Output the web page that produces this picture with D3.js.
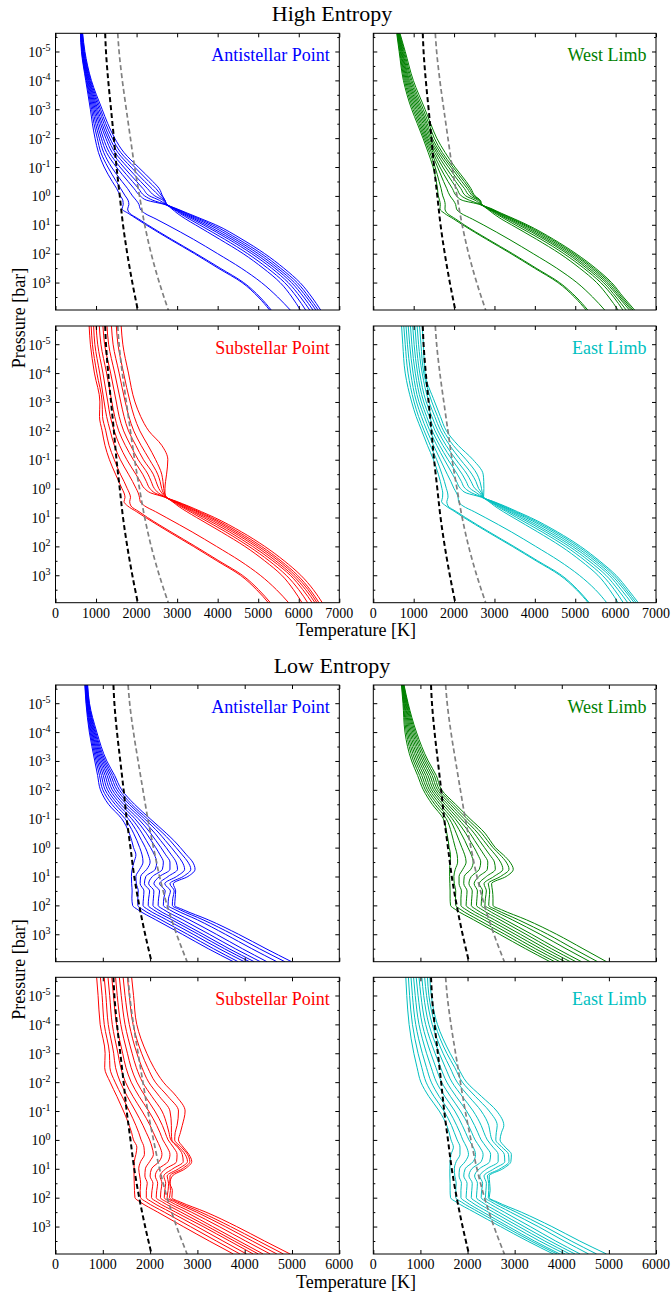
<!DOCTYPE html>
<html><head><meta charset="utf-8">
<script src="https://cdn.jsdelivr.net/npm/d3@7"></script>
<style>
html,body{margin:0;padding:0;background:#fff;}
svg{display:block;}
svg text{font-family:"Liberation Serif","Times New Roman",serif;}
</style></head><body>
<svg id="fig" width="672" height="1298"></svg>
<script>
// Pressure levels of the profiles, log10(P / bar)
const levelsHigh = [-5.63, -5, -4, -3, -2.5, -2, -1.5, -1, -0.5, -0.25, 0, 0.15, 0.3, 0.45, 0.6, 0.8, 1, 1.5, 2, 2.5, 3, 3.5, 3.95];
const levelsLow  = [-5.63, -5, -4, -3, -2.5, -2, -1.5, -1, -0.5, -0.25, 0, 0.25, 0.5, 0.75, 1, 1.25, 1.5, 1.75, 2, 2.15, 2.5, 3, 3.5, 3.95];

const tempTicksHigh = [0, 1000, 2000, 3000, 4000, 5000, 6000, 7000];
const tempTicksLow  = [0, 1000, 2000, 3000, 4000, 5000, 6000];
const pressureTickExps = [-5, -4, -3, -2, -1, 0, 1, 2, 3];
const pressureMinorExps = [-5.5, -4.5, -3.5, -2.5, -1.5, -0.5, 0.5, 1.5, 2.5, 3.5];

// Reference curves (dashed), same in every panel
const refLevels = [-5.63, -5, -4, -3, -2, -1, 0, 1, 2, 3, 3.95];
const refBlack  = [1225, 1245, 1300, 1370, 1440, 1505, 1585, 1665, 1770, 1895, 2030];
const refGray   = [1535, 1568, 1648, 1746, 1848, 1952, 2072, 2200, 2360, 2560, 2782];

// High entropy, temperature [K] on levelsHigh, one row per model
const highAntistellar = [
  [615, 640, 745, 860, 910, 975, 1060, 1200, 1400, 1510, 1600, 1660, 1670, 1640, 1790, 2010, 2230, 2820, 3430, 4010, 4600, 5000, 5280],
  [620, 648, 760, 890, 950, 1030, 1120, 1290, 1500, 1610, 1720, 1790, 1810, 1780, 1830, 2050, 2270, 2860, 3470, 4060, 4640, 5040, 5320],
  [625, 656, 775, 920, 990, 1080, 1190, 1380, 1640, 1780, 1900, 1990, 2060, 2090, 2200, 2480, 2750, 3400, 4000, 4580, 5080, 5480, 5790],
  [630, 664, 790, 950, 1030, 1130, 1260, 1500, 1790, 1940, 2090, 2250, 2700, 2870, 3000, 3210, 3450, 4050, 4630, 5120, 5540, 5830, 6040],
  [636, 672, 805, 980, 1070, 1180, 1330, 1590, 1900, 2050, 2200, 2400, 2720, 2900, 3060, 3300, 3550, 4170, 4740, 5230, 5650, 5950, 6170],
  [642, 680, 820, 1010, 1110, 1240, 1400, 1680, 2000, 2160, 2320, 2560, 2730, 2920, 3100, 3370, 3640, 4270, 4840, 5330, 5740, 6040, 6270],
  [648, 690, 835, 1040, 1150, 1290, 1470, 1770, 2100, 2270, 2450, 2650, 2740, 2940, 3140, 3430, 3710, 4350, 4920, 5410, 5820, 6120, 6350],
  [655, 700, 850, 1075, 1195, 1340, 1540, 1860, 2200, 2380, 2560, 2680, 2745, 2960, 3180, 3490, 3790, 4430, 5000, 5480, 5890, 6190, 6420],
  [662, 712, 868, 1110, 1240, 1400, 1610, 1950, 2300, 2480, 2620, 2700, 2750, 2980, 3220, 3550, 3870, 4510, 5080, 5550, 5960, 6250, 6480],
  [670, 725, 885, 1150, 1290, 1460, 1690, 2040, 2400, 2560, 2640, 2700, 2755, 3000, 3260, 3610, 3950, 4600, 5160, 5630, 6030, 6320, 6540]
];
const highWestLimb = [
  [580, 640, 745, 950, 1090, 1230, 1360, 1480, 1560, 1590, 1610, 1640, 1660, 1650, 1760, 1990, 2210, 2800, 3410, 3990, 4570, 4980, 5270],
  [590, 655, 770, 985, 1125, 1260, 1400, 1530, 1630, 1680, 1720, 1760, 1780, 1775, 1830, 2040, 2250, 2840, 3450, 4030, 4610, 5020, 5310],
  [598, 670, 795, 1020, 1160, 1290, 1440, 1590, 1740, 1820, 1900, 1980, 2040, 2060, 2170, 2450, 2720, 3360, 3960, 4540, 5040, 5430, 5730],
  [606, 685, 820, 1055, 1195, 1320, 1480, 1650, 1850, 1960, 2060, 2200, 2640, 2820, 2960, 3170, 3420, 4040, 4620, 5110, 5530, 5830, 6060],
  [614, 700, 845, 1090, 1230, 1350, 1520, 1720, 1950, 2070, 2180, 2380, 2660, 2840, 3010, 3260, 3510, 4150, 4720, 5210, 5630, 5950, 6180],
  [622, 715, 870, 1125, 1265, 1385, 1565, 1790, 2040, 2170, 2290, 2520, 2670, 2860, 3050, 3320, 3590, 4230, 4800, 5280, 5700, 6010, 6260],
  [630, 730, 895, 1160, 1300, 1420, 1610, 1860, 2120, 2260, 2390, 2590, 2675, 2880, 3080, 3370, 3650, 4290, 4860, 5340, 5760, 6070, 6340],
  [640, 748, 925, 1195, 1335, 1460, 1660, 1920, 2190, 2330, 2460, 2620, 2680, 2900, 3110, 3420, 3710, 4350, 4920, 5400, 5810, 6110, 6390],
  [650, 768, 955, 1235, 1375, 1510, 1710, 1970, 2250, 2380, 2500, 2640, 2685, 2920, 3140, 3460, 3760, 4410, 4970, 5450, 5860, 6150, 6430],
  [660, 790, 990, 1280, 1420, 1570, 1780, 2020, 2300, 2420, 2520, 2650, 2690, 2940, 3170, 3500, 3810, 4460, 5020, 5500, 5900, 6190, 6470]
];
const highSubstellar = [
  [830, 860, 960, 1095, 1085, 1150, 1220, 1330, 1480, 1560, 1640, 1690, 1715, 1690, 1780, 2000, 2220, 2800, 3400, 3980, 4560, 4960, 5250],
  [880, 910, 1020, 1150, 1160, 1240, 1320, 1450, 1600, 1690, 1770, 1820, 1850, 1830, 1860, 2060, 2270, 2850, 3450, 4030, 4610, 5010, 5300],
  [940, 970, 1090, 1200, 1260, 1350, 1450, 1600, 1800, 1900, 1990, 2040, 2070, 2090, 2200, 2470, 2730, 3370, 3970, 4550, 5050, 5450, 5750],
  [1000, 1040, 1170, 1290, 1350, 1450, 1580, 1760, 1980, 2090, 2200, 2350, 2700, 2880, 3020, 3240, 3480, 4090, 4670, 5160, 5580, 5870, 6080],
  [1080, 1120, 1260, 1390, 1460, 1560, 1720, 1920, 2150, 2240, 2330, 2450, 2710, 2900, 3070, 3320, 3570, 4200, 4770, 5270, 5690, 6000, 6220],
  [1170, 1210, 1360, 1500, 1570, 1680, 1850, 2040, 2280, 2360, 2440, 2540, 2720, 2920, 3110, 3380, 3650, 4290, 4860, 5360, 5790, 6100, 6330],
  [1270, 1310, 1460, 1610, 1690, 1800, 1980, 2170, 2410, 2480, 2550, 2620, 2725, 2940, 3150, 3430, 3720, 4370, 4940, 5430, 5850, 6170, 6400],
  [1380, 1420, 1570, 1720, 1810, 1930, 2110, 2320, 2520, 2580, 2620, 2660, 2730, 2960, 3190, 3490, 3790, 4440, 5010, 5500, 5910, 6230, 6450],
  [1500, 1540, 1680, 1840, 1940, 2080, 2280, 2470, 2620, 2650, 2670, 2690, 2735, 2980, 3230, 3540, 3850, 4510, 5080, 5560, 5970, 6280, 6500],
  [1620, 1660, 1800, 1960, 2100, 2300, 2620, 2770, 2740, 2715, 2700, 2700, 2740, 3000, 3270, 3600, 3920, 4590, 5160, 5640, 6050, 6360, 6580]
];
const highEastLimb = [
  [700, 730, 790, 950, 1060, 1200, 1340, 1490, 1610, 1660, 1700, 1720, 1715, 1690, 1800, 2020, 2240, 2830, 3440, 4030, 4620, 5030, 5320],
  [755, 790, 860, 1010, 1120, 1260, 1410, 1570, 1700, 1760, 1810, 1840, 1850, 1820, 1850, 2060, 2280, 2870, 3480, 4070, 4660, 5060, 5345],
  [810, 845, 925, 1070, 1190, 1330, 1490, 1660, 1830, 1920, 2000, 2060, 2100, 2110, 2220, 2500, 2770, 3420, 4020, 4600, 5100, 5500, 5780],
  [865, 900, 985, 1130, 1260, 1400, 1570, 1760, 1960, 2060, 2160, 2300, 2680, 2860, 3000, 3220, 3460, 4070, 4650, 5140, 5560, 5850, 6060],
  [920, 955, 1040, 1190, 1320, 1460, 1640, 1850, 2080, 2180, 2280, 2440, 2700, 2880, 3050, 3300, 3550, 4180, 4760, 5250, 5670, 5970, 6190],
  [975, 1010, 1095, 1250, 1385, 1530, 1720, 1950, 2200, 2300, 2400, 2560, 2710, 2900, 3090, 3360, 3630, 4270, 4850, 5340, 5760, 6060, 6300],
  [1030, 1065, 1150, 1310, 1450, 1600, 1800, 2050, 2320, 2420, 2520, 2640, 2715, 2920, 3130, 3420, 3700, 4350, 4930, 5420, 5840, 6140, 6390],
  [1085, 1120, 1210, 1380, 1520, 1670, 1890, 2160, 2440, 2540, 2610, 2680, 2720, 2940, 3170, 3470, 3770, 4430, 5000, 5490, 5900, 6210, 6460],
  [1145, 1180, 1250, 1450, 1590, 1740, 1980, 2300, 2570, 2640, 2680, 2700, 2725, 2960, 3210, 3520, 3830, 4500, 5070, 5550, 5960, 6260, 6510],
  [1210, 1240, 1280, 1520, 1660, 1810, 2100, 2470, 2720, 2735, 2738, 2735, 2730, 2980, 3250, 3570, 3890, 4560, 5130, 5600, 6010, 6310, 6560]
];

// Low entropy, temperature [K] on levelsLow, one row per model
const lowAntistellar = [
  [620, 645, 715, 830, 890, 950, 1120, 1400, 1560, 1610, 1650, 1700, 1660, 1620, 1605, 1610, 1620, 1615, 1630, 1740, 2120, 2680, 3230, 3760],
  [627, 653, 732, 858, 930, 1000, 1190, 1470, 1650, 1720, 1780, 1830, 1850, 1780, 1700, 1710, 1750, 1740, 1740, 1850, 2230, 2790, 3340, 3860],
  [633, 661, 749, 886, 970, 1050, 1260, 1540, 1740, 1820, 1900, 1960, 2000, 1930, 1800, 1790, 1870, 1860, 1850, 1960, 2350, 2910, 3460, 3990],
  [640, 669, 766, 914, 1010, 1100, 1320, 1610, 1830, 1920, 2010, 2090, 2140, 2110, 1910, 1880, 1990, 1970, 1960, 2070, 2460, 3020, 3570, 4100],
  [647, 677, 783, 942, 1050, 1150, 1380, 1680, 1920, 2020, 2120, 2210, 2280, 2260, 2050, 1970, 2080, 2070, 2060, 2170, 2560, 3120, 3670, 4200],
  [653, 685, 800, 970, 1090, 1200, 1440, 1750, 2010, 2120, 2230, 2330, 2420, 2420, 2200, 2080, 2200, 2180, 2170, 2290, 2690, 3250, 3800, 4330],
  [660, 693, 817, 998, 1130, 1250, 1500, 1820, 2100, 2220, 2340, 2450, 2550, 2580, 2380, 2200, 2320, 2290, 2280, 2410, 2830, 3400, 3950, 4470],
  [667, 701, 834, 1026, 1170, 1300, 1560, 1880, 2190, 2320, 2450, 2570, 2680, 2730, 2560, 2310, 2430, 2390, 2380, 2530, 3000, 3590, 4150, 4680],
  [673, 709, 851, 1054, 1210, 1350, 1610, 1940, 2270, 2420, 2550, 2680, 2800, 2860, 2700, 2420, 2510, 2480, 2470, 2630, 3120, 3740, 4310, 4850],
  [680, 718, 873, 1085, 1250, 1400, 1670, 2000, 2340, 2500, 2640, 2770, 2900, 2950, 2800, 2490, 2540, 2530, 2520, 2700, 3230, 3870, 4450, 4990]
];
const lowWestLimb = [
  [598, 630, 672, 814, 940, 1062, 1250, 1486, 1560, 1590, 1610, 1640, 1630, 1620, 1620, 1625, 1630, 1630, 1640, 1750, 2130, 2680, 3230, 3750],
  [604, 642, 699, 853, 984, 1105, 1305, 1549, 1660, 1700, 1740, 1780, 1790, 1740, 1710, 1720, 1750, 1745, 1750, 1860, 2230, 2790, 3330, 3850],
  [610, 654, 726, 892, 1028, 1148, 1360, 1612, 1760, 1820, 1880, 1940, 1970, 1900, 1820, 1820, 1870, 1860, 1860, 1970, 2350, 2900, 3440, 3960],
  [616, 666, 753, 931, 1072, 1191, 1415, 1675, 1860, 1940, 2010, 2080, 2120, 2070, 1930, 1920, 1990, 1980, 1970, 2080, 2460, 3010, 3550, 4070],
  [622, 678, 780, 970, 1116, 1234, 1470, 1738, 1960, 2050, 2140, 2220, 2280, 2250, 2080, 2030, 2100, 2090, 2080, 2190, 2570, 3120, 3660, 4180],
  [628, 690, 807, 1009, 1160, 1277, 1525, 1801, 2050, 2150, 2250, 2350, 2430, 2420, 2240, 2140, 2210, 2200, 2190, 2310, 2690, 3240, 3780, 4300],
  [634, 702, 834, 1048, 1204, 1320, 1580, 1864, 2140, 2250, 2360, 2470, 2570, 2590, 2400, 2250, 2320, 2300, 2290, 2420, 2800, 3360, 3900, 4420],
  [640, 714, 861, 1087, 1248, 1363, 1635, 1927, 2220, 2340, 2460, 2590, 2700, 2750, 2560, 2350, 2400, 2380, 2370, 2520, 2950, 3540, 4090, 4600],
  [646, 726, 888, 1126, 1292, 1406, 1690, 1990, 2300, 2420, 2540, 2690, 2820, 2880, 2700, 2440, 2470, 2460, 2450, 2610, 3080, 3700, 4250, 4760],
  [652, 738, 915, 1165, 1336, 1449, 1745, 2053, 2370, 2480, 2590, 2760, 2900, 2970, 2820, 2510, 2530, 2540, 2540, 2720, 3250, 3890, 4450, 4950]
];
const lowSubstellar = [
  [870, 900, 944, 1049, 1040, 1155, 1300, 1437, 1560, 1610, 1648, 1720, 1700, 1665, 1660, 1660, 1665, 1670, 1680, 1790, 2160, 2700, 3250, 3760],
  [950, 985, 1030, 1140, 1150, 1260, 1410, 1560, 1700, 1760, 1810, 1870, 1880, 1800, 1760, 1780, 1800, 1790, 1800, 1920, 2300, 2850, 3400, 3900],
  [1030, 1065, 1115, 1230, 1270, 1370, 1520, 1690, 1850, 1920, 1990, 2040, 2070, 1990, 1900, 1890, 1940, 1920, 1920, 2040, 2430, 2990, 3540, 4040],
  [1110, 1145, 1200, 1320, 1380, 1480, 1640, 1830, 2000, 2070, 2140, 2210, 2250, 2190, 2030, 2000, 2060, 2040, 2030, 2150, 2540, 3120, 3680, 4180],
  [1190, 1225, 1290, 1420, 1490, 1600, 1770, 1970, 2140, 2210, 2270, 2360, 2420, 2380, 2180, 2110, 2160, 2140, 2130, 2260, 2650, 3220, 3780, 4290],
  [1270, 1305, 1380, 1520, 1600, 1720, 1900, 2100, 2260, 2320, 2380, 2490, 2570, 2560, 2330, 2210, 2250, 2230, 2220, 2350, 2760, 3320, 3880, 4390],
  [1350, 1390, 1470, 1620, 1710, 1840, 2040, 2250, 2360, 2400, 2440, 2580, 2680, 2700, 2480, 2290, 2330, 2310, 2300, 2440, 2870, 3460, 4020, 4540],
  [1430, 1470, 1560, 1720, 1830, 1970, 2200, 2420, 2450, 2450, 2460, 2610, 2740, 2790, 2600, 2360, 2390, 2380, 2360, 2520, 2980, 3590, 4160, 4680],
  [1520, 1560, 1640, 1820, 1950, 2110, 2380, 2600, 2570, 2530, 2520, 2660, 2790, 2840, 2680, 2420, 2420, 2430, 2410, 2580, 3070, 3700, 4290, 4820],
  [1610, 1650, 1718, 1930, 2080, 2280, 2560, 2740, 2680, 2640, 2600, 2700, 2820, 2880, 2740, 2470, 2420, 2470, 2460, 2640, 3180, 3830, 4420, 4960]
];
const lowEastLimb = [
  [690, 710, 760, 860, 930, 1010, 1180, 1400, 1560, 1610, 1650, 1700, 1650, 1630, 1625, 1625, 1630, 1630, 1640, 1760, 2140, 2700, 3270, 3820],
  [745, 770, 830, 950, 1030, 1120, 1290, 1500, 1660, 1720, 1780, 1840, 1840, 1760, 1720, 1730, 1760, 1750, 1750, 1870, 2240, 2790, 3350, 3900],
  [800, 830, 900, 1040, 1130, 1230, 1400, 1610, 1770, 1840, 1900, 1980, 2020, 1950, 1830, 1820, 1870, 1860, 1860, 1970, 2330, 2870, 3420, 3960],
  [855, 890, 970, 1130, 1230, 1340, 1520, 1730, 1890, 1960, 2030, 2120, 2170, 2120, 1950, 1920, 1990, 1980, 1970, 2080, 2440, 2980, 3530, 4070],
  [910, 950, 1040, 1220, 1330, 1450, 1640, 1850, 2020, 2090, 2160, 2260, 2330, 2290, 2090, 2030, 2100, 2090, 2080, 2190, 2550, 3090, 3640, 4170],
  [970, 1010, 1110, 1310, 1430, 1560, 1760, 1980, 2150, 2220, 2290, 2400, 2490, 2470, 2250, 2150, 2210, 2200, 2190, 2300, 2660, 3200, 3750, 4280],
  [1030, 1070, 1180, 1400, 1530, 1670, 1890, 2120, 2290, 2350, 2420, 2540, 2650, 2650, 2410, 2260, 2320, 2300, 2290, 2410, 2780, 3330, 3870, 4390],
  [1090, 1130, 1250, 1480, 1630, 1780, 2030, 2290, 2450, 2480, 2520, 2650, 2780, 2790, 2560, 2350, 2400, 2390, 2380, 2510, 2910, 3500, 4050, 4570],
  [1150, 1180, 1310, 1560, 1730, 1890, 2170, 2460, 2630, 2610, 2600, 2730, 2870, 2880, 2690, 2420, 2450, 2450, 2440, 2590, 3030, 3640, 4200, 4740],
  [1200, 1230, 1360, 1630, 1800, 1980, 2300, 2620, 2770, 2720, 2690, 2800, 2930, 2920, 2750, 2460, 2470, 2480, 2460, 2630, 3140, 3790, 4380, 4950]
];

const colors = {antistellar: "#0000ff", west: "#008000", substellar: "#ff0000", east: "#00bfbf"};
const serif = "'Liberation Serif', 'Times New Roman', serif";

// ---- layout ----
const svg = d3.select("#fig");
const colX = [55.5, 373.3];
const colW = [283.8, 282.7];
const panelH = 276.7;
const groups = [
  {title: "High Entropy", titleY: 20.7, rows: [33.3, 326], levels: levelsHigh, tmax: 7000, ticks: tempTicksHigh,
   panels: [
     {name: "Antistellar Point", color: colors.antistellar, data: highAntistellar, r: 0, c: 0},
     {name: "West Limb", color: colors.west, data: highWestLimb, r: 0, c: 1},
     {name: "Substellar Point", color: colors.substellar, data: highSubstellar, r: 1, c: 0},
     {name: "East Limb", color: colors.east, data: highEastLimb, r: 1, c: 1}
   ]},
  {title: "Low Entropy", titleY: 673, rows: [685, 977.3], levels: levelsLow, tmax: 6000, ticks: tempTicksLow,
   panels: [
     {name: "Antistellar Point", color: colors.antistellar, data: lowAntistellar, r: 0, c: 0},
     {name: "West Limb", color: colors.west, data: lowWestLimb, r: 0, c: 1},
     {name: "Substellar Point", color: colors.substellar, data: lowSubstellar, r: 1, c: 0},
     {name: "East Limb", color: colors.east, data: lowEastLimb, r: 1, c: 1}
   ]}
];

const pMin = Math.pow(10, -5.63), pMax = Math.pow(10, 3.95);
let clipId = 0;

function label(sel, size) {
  return sel.style("font-family", serif).style("font-size", size + "px").attr("fill", "#000");
}

groups.forEach(grp => {
  label(svg.append("text"), 22).attr("x", 332).attr("y", grp.titleY)
    .attr("text-anchor", "middle").text(grp.title);

  grp.panels.forEach(p => {
    const x0 = colX[p.c], w = colW[p.c], y0 = grp.rows[p.r];
    const x = d3.scaleLinear().domain([0, grp.tmax]).range([x0, x0 + w]);
    const y = d3.scaleLog().domain([pMin, pMax]).range([y0, y0 + panelH]);
    const g = svg.append("g");

    const cid = "clip" + (clipId++);
    g.append("clipPath").attr("id", cid).append("rect")
      .attr("x", x0).attr("y", y0).attr("width", w).attr("height", panelH);
    const plot = g.append("g").attr("clip-path", `url(#${cid})`);

    const line = d3.line().x(d => x(d[1])).y(d => y(d[0])).curve(d3.curveMonotoneY);

    p.data.forEach(temps => {
      const pts = grp.levels.map((lp, k) => [Math.pow(10, lp), temps[k]]);
      plot.append("path").attr("d", line(pts)).attr("fill", "none")
        .attr("stroke", p.color).attr("stroke-width", 1);
    });

    const refPts = arr => refLevels.map((lp, k) => [Math.pow(10, lp), arr[k]]);
    plot.append("path").attr("d", line(refPts(refGray))).attr("fill", "none")
      .attr("stroke", "#808080").attr("stroke-width", 1.7).attr("stroke-dasharray", "5,3");
    plot.append("path").attr("d", line(refPts(refBlack))).attr("fill", "none")
      .attr("stroke", "#000").attr("stroke-width", 2).attr("stroke-dasharray", "5,3");

    // ticks on all four sides, pointing inward
    const yTicks = pressureTickExps.map(e => Math.pow(10, e));
    const yMinor = pressureMinorExps.map(e => Math.pow(10, e)).filter(v => v > pMin && v < pMax);
    const noText = () => "";
    g.append("g").attr("transform", `translate(0,${y0 + panelH})`)
      .call(d3.axisBottom(x).tickValues(grp.ticks).tickSize(-4).tickSizeOuter(0).tickFormat(noText));
    g.append("g").attr("transform", `translate(0,${y0})`)
      .call(d3.axisTop(x).tickValues(grp.ticks).tickSize(-4).tickSizeOuter(0).tickFormat(noText));
    g.append("g").attr("transform", `translate(${x0},0)`)
      .call(d3.axisLeft(y).tickValues(yTicks).tickSize(-4).tickSizeOuter(0).tickFormat(noText));
    g.append("g").attr("transform", `translate(${x0 + w},0)`)
      .call(d3.axisRight(y).tickValues(yTicks).tickSize(-4).tickSizeOuter(0).tickFormat(noText));
    g.append("g").attr("transform", `translate(${x0},0)`)
      .call(d3.axisLeft(y).tickValues(yMinor).tickSize(-2).tickSizeOuter(0).tickFormat(noText));
    g.append("g").attr("transform", `translate(${x0 + w},0)`)
      .call(d3.axisRight(y).tickValues(yMinor).tickSize(-2).tickSizeOuter(0).tickFormat(noText));
    g.selectAll(".domain").remove();
    g.selectAll(".tick text").remove();
    g.selectAll(".tick line").attr("stroke", "#000");

    g.append("rect").attr("x", x0).attr("y", y0).attr("width", w).attr("height", panelH)
      .attr("fill", "none").attr("stroke", "#000").attr("stroke-width", 1);

    if (p.r === 1) {
      grp.ticks.forEach(t => {
        label(g.append("text"), 14).attr("x", x(t)).attr("y", y0 + panelH + 15)
          .attr("text-anchor", "middle").text(String(t));
      });
    }
    if (p.c === 0) {
      pressureTickExps.forEach(e => {
        const t = label(g.append("text"), 14).attr("x", x0 - 5).attr("y", y(Math.pow(10, e)) + 5.5)
          .attr("text-anchor", "end");
        t.append("tspan").text("10");
        t.append("tspan").attr("dy", -5.5).style("font-size", "10px").text(e < 0 ? "-" + (-e) : String(e));
      });
    }

    label(g.append("text"), 18).attr("x", x0 + w - 9.5).attr("y", y0 + 27.5)
      .attr("text-anchor", "end").attr("fill", p.color).text(p.name);
  });

  const yMid = (grp.rows[0] + grp.rows[1] + panelH) / 2;
  label(svg.append("text"), 18).attr("transform", `translate(25,${yMid}) rotate(-90)`)
    .attr("text-anchor", "middle").text("Pressure [bar]");
  label(svg.append("text"), 18).attr("x", 356).attr("y", grp.rows[1] + panelH + 33.5)
    .attr("text-anchor", "middle").text("Temperature [K]");
});
</script>
</body></html>
